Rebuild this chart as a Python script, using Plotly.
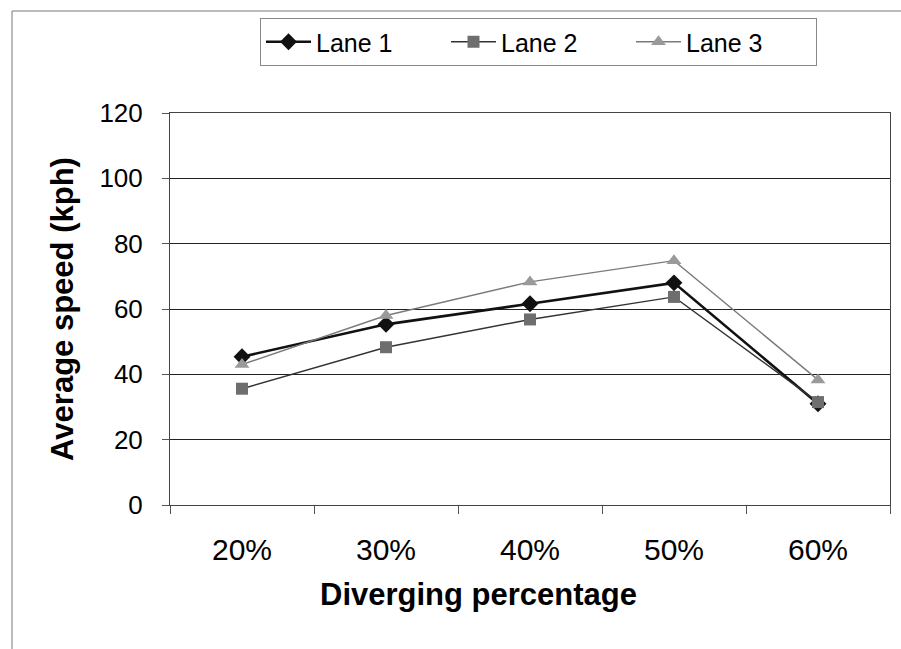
import plotly.graph_objects as go

# Average speed per lane at each diverging percentage
categories = ["20%", "30%", "40%", "50%", "60%"]
lane1 = [45.4, 55.3, 61.6, 68.0, 31.0]
lane2 = [35.6, 48.3, 56.8, 63.7, 31.5]
lane3 = [43.0, 58.0, 68.3, 74.8, 38.3]
y_ticks = [0, 20, 40, 60, 80, 100, 120]

FONT = "Arial, Liberation Sans, sans-serif"

fig = go.Figure()
fig.add_trace(go.Scatter(
    x=categories, y=lane1, name="Lane 1", mode="lines+markers",
    line=dict(color="#111111", width=2.6),
    marker=dict(symbol="diamond", size=13, color="#111111"),
))
fig.add_trace(go.Scatter(
    x=categories, y=lane2, name="Lane 2", mode="lines+markers",
    line=dict(color="#333333", width=1.4),
    marker=dict(symbol="square", size=12, color="#6e6e6e"),
))
fig.add_trace(go.Scatter(
    x=categories, y=lane3, name="Lane 3", mode="lines+markers",
    line=dict(color="#7a7a7a", width=1.4),
    marker=dict(symbol="triangle-up", size=13, color="#9a9a9a"),
))

L, R, T, B = 170, 11, 113, 144
W, H = 901, 649
pw, ph = W - L - R, H - T - B

def px_x(p):
    return (p - L) / pw

def px_y(p):
    return (H - B - p) / ph

# outer chart frame (left and top edges visible)
fig.add_shape(type="rect", xref="paper", yref="paper",
              x0=px_x(12), x1=px_x(960), y0=px_y(700), y1=px_y(11),
              line=dict(color="#777777", width=1), fillcolor="rgba(0,0,0,0)",
              layer="below")

# x-axis title
fig.add_annotation(text="<b>Diverging percentage</b>", xref="paper", yref="paper",
                   x=px_x(478), y=px_y(594), xanchor="center", yanchor="middle",
                   showarrow=False, font=dict(size=31, family=FONT, color="#000000"))

fig.update_layout(
    width=W, height=H,
    margin=dict(l=L, r=R, t=T, b=B),
    paper_bgcolor="white", plot_bgcolor="white",
    font=dict(family=FONT, color="#000000"),
    showlegend=True,
    legend=dict(
        orientation="h", x=px_x(260), y=px_y(18), xanchor="left", yanchor="top",
        bordercolor="#888888", borderwidth=1, bgcolor="white",
        font=dict(size=25, family=FONT),
        itemwidth=45,
        entrywidth=125, entrywidthmode="pixels",
        itemsizing="trace", traceorder="normal",
    ),
    xaxis=dict(
        type="category", range=[-0.5, 4.5],
        tickson="boundaries", ticks="outside", ticklen=8, tickcolor="#555555",
        ticklabelstandoff=18,
        tickfont=dict(size=30, family=FONT),
        showgrid=False, showline=True, linecolor="#444444", linewidth=1, mirror=True,
        zeroline=False,
    ),
    yaxis=dict(
        range=[0, 120], tickvals=y_ticks,
        ticks="outside", ticklen=7, tickcolor="#555555", ticklabelstandoff=14,
        tickfont=dict(size=26, family=FONT),
        showgrid=True, gridcolor="#222222", gridwidth=1,
        showline=True, linecolor="#444444", linewidth=1, mirror=True,
        zeroline=False,
        title=dict(text="<b>Average speed (kph)</b>", font=dict(size=31, family=FONT), standoff=16),
    ),
)

fig.write_html("out.html")
